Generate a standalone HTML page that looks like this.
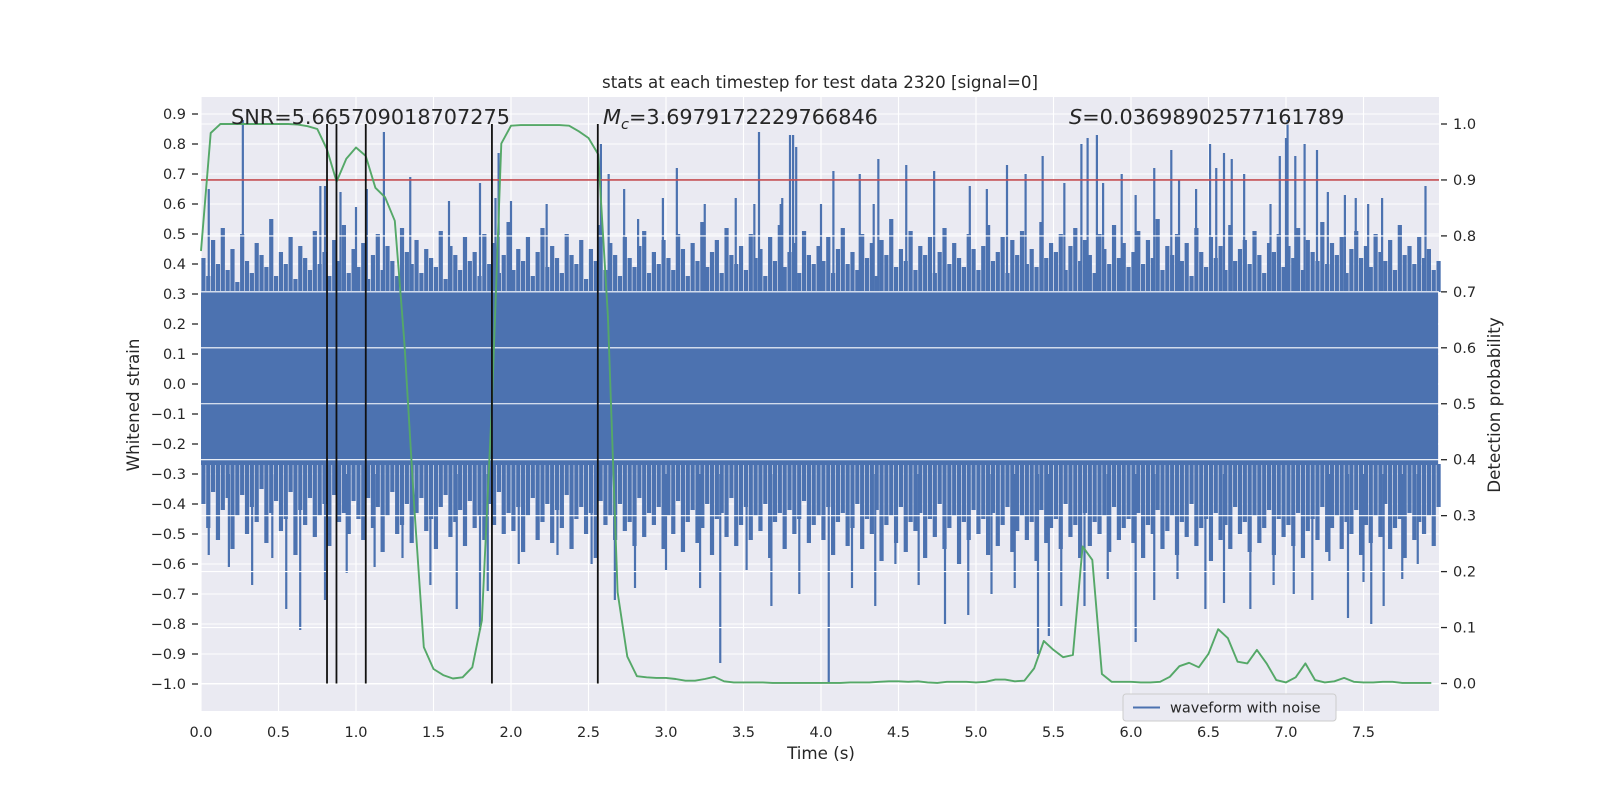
<!DOCTYPE html>
<html><head><meta charset="utf-8"><style>
html,body{margin:0;padding:0;background:#fff;}
svg{display:block;font-family:"DejaVu Sans","Liberation Sans",sans-serif;}
</style></head><body>
<svg id="chart" width="1600" height="800" viewBox="0 0 1600 800">
<rect x="0" y="0" width="1600" height="800" fill="#fff"/>
<rect x="201" y="97" width="1238" height="614" fill="#eaeaf2"/>
<g id="gridL"></g>
<g id="wave"></g>
<g id="gridR"></g>
<g id="overlay"></g>
<g id="axes"></g>
<text x="820" y="88" font-size="16.7" fill="#262626" text-anchor="middle">stats at each timestep for test data 2320 [signal=0]</text>
<text x="231" y="124" font-size="20.8" fill="#262626">SNR=5.665709018707275</text>
<text x="603" y="124" font-size="20.8" fill="#262626"><tspan font-style="italic">M</tspan><tspan font-style="italic" font-size="14.5" dy="5">c</tspan><tspan dy="-5">=3.6979172229766846</tspan></text>
<text x="1069" y="124" font-size="20.8" fill="#262626"><tspan font-style="italic">S</tspan>=0.03698902577161789</text>
<text x="821" y="759" font-size="16.7" fill="#262626" text-anchor="middle">Time (s)</text>
<text transform="translate(139,405) rotate(-90)" font-size="16.7" fill="#262626" text-anchor="middle">Whitened strain</text>
<text transform="translate(1500,405) rotate(-90)" font-size="16.7" fill="#262626" text-anchor="middle">Detection probability</text>
<g>
<rect x="1123" y="694" width="213" height="27" rx="3" fill="#eaeaf2" stroke="#cccccc" stroke-width="1"/>
<line x1="1133" y1="707.5" x2="1160" y2="707.5" stroke="#4c72b0" stroke-width="2"/>
<text x="1170" y="712.5" font-size="14.5" fill="#262626">waveform with noise</text>
</g>
</svg>
<script>
const probStep = 0.0625;
const probValues = [0.773,0.984,1.0,1.0,1.0,1.0,1.0,1.0,1.0,1.0,0.999,0.996,0.991,0.955,0.897,0.938,0.958,0.943,0.886,0.869,0.827,0.609,0.32,0.065,0.026,0.015,0.009,0.011,0.029,0.113,0.486,0.965,0.997,0.998,0.998,0.998,0.998,0.998,0.997,0.987,0.975,0.946,0.657,0.163,0.048,0.013,0.011,0.01,0.01,0.008,0.005,0.005,0.008,0.012,0.004,0.002,0.002,0.002,0.002,0.001,0.001,0.001,0.001,0.001,0.001,0.001,0.001,0.002,0.002,0.002,0.003,0.004,0.004,0.003,0.004,0.002,0.001,0.003,0.003,0.003,0.002,0.003,0.007,0.007,0.004,0.005,0.027,0.076,0.06,0.047,0.051,0.245,0.221,0.017,0.003,0.003,0.003,0.002,0.002,0.003,0.012,0.031,0.037,0.029,0.053,0.097,0.081,0.039,0.036,0.06,0.036,0.006,0.002,0.011,0.036,0.006,0.002,0.004,0.01,0.003,0.002,0.002,0.003,0.003,0.001,0.001,0.001,0.001];
const coreTop = [0.31];
const coreBottom = [-0.27];
const fringeStep = 0.03125;
const fringeUpper = [0.42,0.36,0.48,0.40,0.52,0.38,0.45,0.34,0.50,0.41,0.37,0.47,0.43,0.39,0.55,0.36,0.44,0.40,0.49,0.35,0.46,0.42,0.38,0.51,0.40,0.44,0.36,0.48,0.41,0.53,0.37,0.45,
0.39,0.47,0.35,0.43,0.50,0.38,0.46,0.41,0.36,0.52,0.44,0.40,0.48,0.37,0.45,0.42,0.39,0.51,0.35,0.46,0.43,0.38,0.49,0.41,0.44,0.36,0.50,0.40,0.47,0.37,0.43,0.54,
0.38,0.45,0.41,0.49,0.36,0.44,0.52,0.39,0.46,0.42,0.37,0.50,0.43,0.40,0.48,0.35,0.45,0.41,0.53,0.38,0.47,0.43,0.36,0.49,0.42,0.39,0.46,0.51,0.37,0.44,0.40,0.48,
0.42,0.38,0.50,0.45,0.36,0.47,0.41,0.54,0.39,0.44,0.48,0.37,0.52,0.43,0.40,0.46,0.38,0.50,0.42,0.45,0.36,0.49,0.41,0.53,0.39,0.44,0.47,0.37,0.51,0.43,0.40,0.46,
0.41,0.49,0.37,0.45,0.52,0.40,0.44,0.38,0.50,0.42,0.47,0.36,0.48,0.43,0.55,0.39,0.45,0.41,0.51,0.38,0.46,0.43,0.49,0.37,0.44,0.52,0.40,0.47,0.42,0.39,0.50,0.45,
0.38,0.46,0.53,0.41,0.44,0.49,0.37,0.48,0.43,0.51,0.40,0.45,0.39,0.54,0.42,0.47,0.44,0.50,0.38,0.46,0.52,0.41,0.48,0.43,0.37,0.50,0.45,0.40,0.53,0.42,0.47,0.39,
0.44,0.51,0.40,0.48,0.42,0.55,0.38,0.46,0.43,0.50,0.41,0.47,0.36,0.52,0.44,0.39,0.49,0.42,0.46,0.38,0.53,0.41,0.45,0.48,0.40,0.51,0.43,0.37,0.47,0.44,0.50,0.39,
0.46,0.42,0.52,0.38,0.48,0.44,0.41,0.54,0.40,0.47,0.43,0.49,0.37,0.45,0.51,0.42,0.46,0.39,0.50,0.44,0.41,0.48,0.38,0.53,0.43,0.46,0.40,0.49,0.42,0.45,0.38,0.41];
const fringeLower = [-0.40,-0.48,-0.36,-0.52,-0.42,-0.38,-0.55,-0.44,-0.37,-0.50,-0.41,-0.46,-0.35,-0.53,-0.43,-0.39,-0.49,-0.45,-0.36,-0.57,-0.42,-0.47,-0.38,-0.51,-0.44,-0.40,-0.54,-0.37,-0.46,-0.43,-0.50,-0.39,
-0.45,-0.52,-0.38,-0.48,-0.41,-0.56,-0.44,-0.36,-0.50,-0.47,-0.40,-0.53,-0.43,-0.38,-0.49,-0.45,-0.55,-0.41,-0.37,-0.51,-0.46,-0.42,-0.54,-0.39,-0.48,-0.44,-0.52,-0.40,-0.47,-0.36,-0.50,-0.43,
-0.49,-0.41,-0.56,-0.44,-0.38,-0.52,-0.46,-0.40,-0.53,-0.42,-0.48,-0.37,-0.55,-0.45,-0.41,-0.50,-0.43,-0.58,-0.39,-0.47,-0.44,-0.52,-0.40,-0.49,-0.46,-0.54,-0.38,-0.51,-0.43,-0.47,-0.41,-0.55,
-0.44,-0.50,-0.39,-0.56,-0.46,-0.42,-0.53,-0.48,-0.40,-0.57,-0.45,-0.43,-0.51,-0.38,-0.54,-0.47,-0.41,-0.52,-0.44,-0.49,-0.40,-0.58,-0.46,-0.43,-0.55,-0.42,-0.50,-0.45,-0.39,-0.53,-0.47,-0.44,
-0.52,-0.41,-0.57,-0.46,-0.43,-0.54,-0.48,-0.40,-0.55,-0.45,-0.50,-0.42,-0.59,-0.47,-0.44,-0.53,-0.41,-0.56,-0.46,-0.49,-0.43,-0.58,-0.45,-0.51,-0.40,-0.55,-0.48,-0.44,-0.60,-0.46,-0.52,-0.42,
-0.50,-0.45,-0.57,-0.43,-0.54,-0.47,-0.41,-0.56,-0.49,-0.44,-0.52,-0.46,-0.59,-0.42,-0.53,-0.48,-0.45,-0.55,-0.40,-0.51,-0.47,-0.58,-0.43,-0.54,-0.46,-0.50,-0.44,-0.56,-0.41,-0.52,-0.48,-0.45,
-0.53,-0.43,-0.58,-0.47,-0.50,-0.42,-0.55,-0.49,-0.44,-0.57,-0.46,-0.51,-0.40,-0.54,-0.48,-0.45,-0.59,-0.43,-0.52,-0.47,-0.55,-0.41,-0.50,-0.46,-0.56,-0.44,-0.53,-0.48,-0.42,-0.57,-0.45,-0.51,
-0.47,-0.54,-0.43,-0.58,-0.49,-0.45,-0.52,-0.41,-0.56,-0.48,-0.44,-0.55,-0.46,-0.50,-0.42,-0.57,-0.47,-0.53,-0.44,-0.51,-0.40,-0.55,-0.48,-0.45,-0.58,-0.43,-0.52,-0.46,-0.50,-0.44,-0.54,-0.41];
const spikeUpT = [0.05,0.27,0.77,0.8,0.9,1.0,1.07,1.18,1.35,1.6,1.8,1.9,1.92,2.0,2.23,2.58,2.63,2.73,2.82,2.98,3.07,3.25,3.45,3.57,3.6,3.74,3.75,3.8,3.82,3.84,4.0,4.08,4.25,4.34,4.37,4.55,4.73,4.96,5.07,5.2,5.32,5.43,5.57,5.68,5.72,5.78,5.82,5.94,6.03,6.15,6.26,6.31,6.42,6.51,6.55,6.6,6.65,6.73,6.9,6.96,7.0,7.01,7.06,7.12,7.2,7.27,7.38,7.45,7.53,7.62,7.9];
const spikeUpV = [0.65,0.88,0.66,0.66,0.64,0.59,0.65,0.84,0.69,0.61,0.67,0.62,0.77,0.61,0.6,0.8,0.7,0.65,0.55,0.62,0.72,0.6,0.62,0.6,0.84,0.6,0.62,0.83,0.83,0.79,0.6,0.71,0.7,0.6,0.75,0.73,0.71,0.66,0.65,0.73,0.7,0.76,0.67,0.8,0.82,0.83,0.67,0.7,0.63,0.72,0.78,0.68,0.65,0.8,0.72,0.77,0.75,0.7,0.6,0.76,0.82,0.88,0.76,0.8,0.78,0.64,0.63,0.62,0.6,0.62,0.66];
const spikeLoT = [0.05,0.18,0.33,0.46,0.55,0.64,0.8,0.94,1.12,1.3,1.48,1.65,1.8,1.85,2.05,2.3,2.52,2.67,2.8,3.0,3.22,3.35,3.52,3.68,3.86,4.05,4.2,4.35,4.48,4.63,4.8,4.95,5.1,5.25,5.4,5.47,5.55,5.7,5.85,6.03,6.15,6.3,6.48,6.6,6.77,6.92,7.05,7.17,7.28,7.4,7.5,7.55,7.63,7.75,7.85];
const spikeLoV = [-0.57,-0.61,-0.67,-0.58,-0.75,-0.82,-0.72,-0.63,-0.61,-0.58,-0.67,-0.75,-0.82,-0.69,-0.6,-0.57,-0.6,-0.72,-0.68,-0.62,-0.68,-0.93,-0.62,-0.74,-0.7,-1.0,-0.68,-0.74,-0.6,-0.67,-0.8,-0.77,-0.7,-0.68,-0.9,-0.84,-0.74,-0.74,-0.65,-0.86,-0.72,-0.65,-0.75,-0.73,-0.75,-0.67,-0.7,-0.72,-0.59,-0.78,-0.66,-0.8,-0.74,-0.65,-0.6];
const eventTimes = [0.813,0.874,1.063,1.877,2.56];
const threshold = [0.9];
const xTicks = [0,0.5,1,1.5,2,2.5,3,3.5,4,4.5,5,5.5,6,6.5,7,7.5];
const yLeftTicks = [-1.0,-0.9,-0.8,-0.7,-0.6,-0.5,-0.4,-0.3,-0.2,-0.1,0.0,0.1,0.2,0.3,0.4,0.5,0.6,0.7,0.8,0.9];
const yRightTicks = [0.0,0.1,0.2,0.3,0.4,0.5,0.6,0.7,0.8,0.9,1.0];

const NS = 'http://www.w3.org/2000/svg';
const X0 = 201, X1 = 1439, Y0 = 97, Y1 = 711;
function xs(t){ return 201 + t * 155; }
function yl(v){ return 684 - (v + 1) * 300; }
function yr(p){ return 683.5 - p * 559.5; }
function mk(tag, attrs, parent){
  const e = document.createElementNS(NS, tag);
  for (const k in attrs) e.setAttribute(k, attrs[k]);
  parent.appendChild(e);
  return e;
}
function fmt(v){ const s = v.toFixed(1); return s.replace('-', '\u2212'); }
const gL = document.getElementById('gridL'), gW = document.getElementById('wave'), gR = document.getElementById('gridR'), gO = document.getElementById('overlay'), gA = document.getElementById('axes');

yLeftTicks.forEach(v => {
  const l = mk('line', {x1:X0, x2:X1, y1:yl(v), y2:yl(v), stroke:'#fff', 'stroke-width':1.1}, gL);
  
  
  const tk = mk('line', {x1:192, x2:198, y1:yl(v), y2:yl(v), stroke:'#262626', 'stroke-width':1.3}, gA);
  
  
  const tx = mk('text', {x:186, y:yl(v)+5, 'font-size':14.5, fill:'#262626', 'text-anchor':'end'}, gA);
  tx.textContent = fmt(v);
  
  
});
xTicks.forEach(t => {
  const l = mk('line', {x1:xs(t), x2:xs(t), y1:Y0, y2:Y1, stroke:'#fff', 'stroke-width':1.1}, gL);
  
  
  const tx = mk('text', {x:xs(t), y:737, 'font-size':14.5, fill:'#262626', 'text-anchor':'middle'}, gA);
  tx.textContent = t.toFixed(1);
  
  
});
const core = mk('rect', {x:X0, y:yl(coreTop[0]), width:X1 - X0 - 1, height:yl(coreBottom[0]) - yl(coreTop[0]), fill:'#4c72b0'}, gW);


fringeUpper.forEach((u, i) => {
  const x = xs(i * fringeStep + fringeStep / 2);
  if (x > X1) return;
  const l = mk('line', {x1:x, x2:x, y1:yl(coreTop[0]) + 1, y2:yl(u), stroke:'#4c72b0', 'stroke-width':4.2}, gW);
  
  
});
fringeLower.forEach((u, i) => {
  const x = xs(i * fringeStep + fringeStep / 2);
  if (x > X1) return;
  const l = mk('line', {x1:x, x2:x, y1:yl(coreBottom[0]) - 1, y2:yl(u), stroke:'#4c72b0', 'stroke-width':4.2}, gW);
  
  
});
spikeUpT.forEach((t, i) => {
  const l = mk('line', {x1:xs(t), x2:xs(t), y1:yl(0.3), y2:yl(spikeUpV[i]), stroke:'#4c72b0', 'stroke-width':2.2}, gW);
  
  
});
spikeLoT.forEach((t, i) => {
  const l = mk('line', {x1:xs(t), x2:xs(t), y1:yl(-0.3), y2:yl(spikeLoV[i]), stroke:'#4c72b0', 'stroke-width':2.2}, gW);
  
  
});
yRightTicks.forEach(p => {
  const l = mk('line', {x1:X0, x2:X1, y1:yr(p), y2:yr(p), stroke:'#fff', 'stroke-width':1.1}, gR);
  
  
  const tk = mk('line', {x1:1441, x2:1447, y1:yr(p), y2:yr(p), stroke:'#262626', 'stroke-width':1.3}, gA);
  
  
  const tx = mk('text', {x:1453, y:yr(p)+5, 'font-size':14.5, fill:'#262626'}, gA);
  tx.textContent = p.toFixed(1);
  
  
});
threshold.forEach(p => {
  const l = mk('line', {x1:X0, x2:X1, y1:yr(p), y2:yr(p), stroke:'#c44e52', 'stroke-width':1.6}, gO);
  
  
});
const pts = probValues.map((p, i) => xs(i * probStep).toFixed(1) + ',' + yr(p).toFixed(1)).join(' ');
const pl = mk('polyline', {points:pts, fill:'none', stroke:'#55a868', 'stroke-width':1.9, 'stroke-linejoin':'round'}, gO);


eventTimes.forEach(t => {
  const l = mk('line', {x1:xs(t), x2:xs(t), y1:yr(0), y2:yr(1), stroke:'#111', 'stroke-width':1.8}, gO);
  
  
});
</script>
</body></html>
